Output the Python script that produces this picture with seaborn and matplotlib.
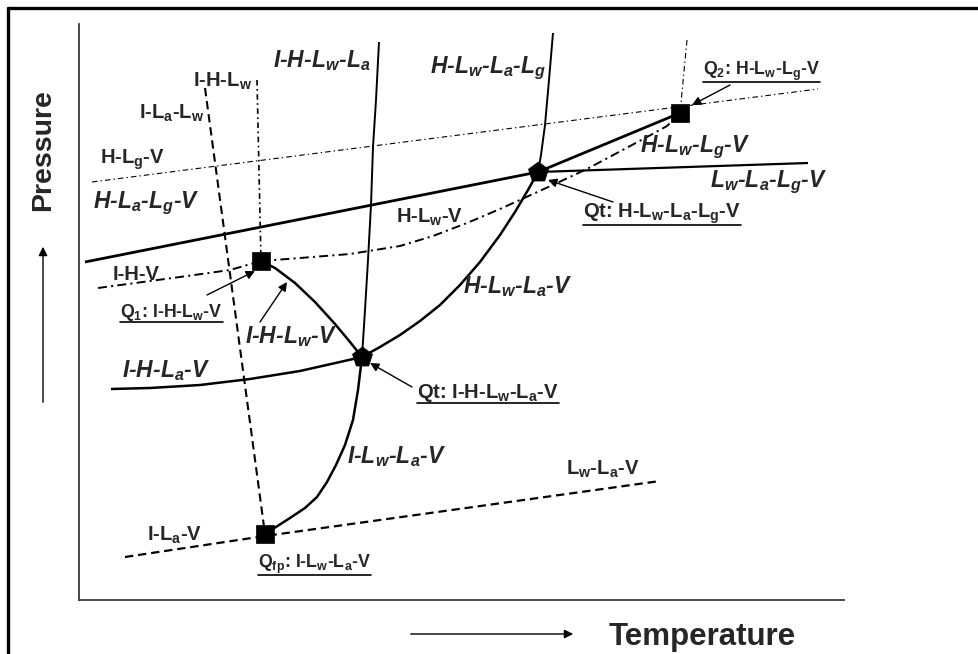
import matplotlib
matplotlib.use("Agg")
import matplotlib.pyplot as plt
from matplotlib.lines import Line2D
import seaborn as sns

# ---------------- data (schematic temperature / pressure units) ----------------
IHLwLa_T = [300, 297, 294, 292, 289, 286, 283]
IHLwLa_P = [558, 500, 453, 395, 340, 290, 243]

ILwLaV_T = [283, 279, 274, 266, 257, 248, 238, 226, 211, 186]
ILwLaV_P = [243, 210, 180, 155, 135, 118, 103, 92, 82, 66]

HLwLaV_T = [283, 301, 321, 341, 361, 381, 401, 421, 436, 449, 459]
HLwLaV_P = [243, 253, 265, 279, 295, 315, 338, 365, 388, 410, 428]

HLwLaLg_T = [474, 470, 466, 462, 459]
HLwLaLg_P = [567, 520, 475, 445, 428]

HLaLgV_T = [6, 459]
HLaLgV_P = [338, 428]

LwLaLgV_T = [459, 729]
LwLaLgV_P = [428, 437]

HLwLgV_T = [459, 601]
HLwLgV_P = [428, 487]

IHLwV_T = [182, 196, 216, 236, 256, 271, 283]
IHLwV_P = [339, 332, 317, 298, 276, 258, 243]

IHLaV_T = [32, 71, 121, 171, 221, 283]
IHLaV_P = [211, 212, 215, 221, 229, 243]

ILaV_T = [46, 186, 581]
ILaV_P = [43, 64, 119]

ILaLw_T = [126, 186]
ILaLw_P = [512, 66]

IHLw_T = [178, 182]
IHLw_P = [520, 339]

HLgV_T = [13, 739]
HLgV_P = [418, 511]

Q2vert_T = [608, 601]
Q2vert_P = [560, 487]

IHV_T = [19, 101, 151, 182]
IHV_P = [312, 323, 330, 339]

HLwV_T = [182, 221, 271, 321, 354, 388, 421, 454, 478, 508, 538, 568, 588, 601]
HLwV_P = [339, 342, 346, 354, 364, 377, 391, 406, 417, 431, 447, 463, 474, 487]

quad_T = [182, 186, 601]          # Q1, Qfp, Q2
quad_P = [339, 66, 487]
quint_T = [283, 459]              # Qt (lower), Qt (upper)
quint_P = [243, 428]

# ---------------- style ----------------
sns.set_style("white")
plt.rcParams["font.family"] = ["Liberation Sans", "DejaVu Sans"]
plt.rcParams["mathtext.fontset"] = "custom"
plt.rcParams["mathtext.rm"] = "Liberation Sans:bold"
plt.rcParams["mathtext.it"] = "Liberation Sans:italic:bold"
plt.rcParams["mathtext.bf"] = "Liberation Sans:bold"
plt.rcParams["lines.scale_dashes"] = False

W, H = 979, 654
fig = plt.figure(figsize=(W / 100, H / 100), dpi=100)
ax = fig.add_axes([79 / W, (H - 600) / H, (844 - 79) / W, (600 - 24) / H])
ax.set_xlim(0, 765)
ax.set_ylim(0, 576)
ax.set_xticks([])
ax.set_yticks([])
for s in ["top", "right"]:
    ax.spines[s].set_visible(False)
for s in ["left", "bottom"]:
    ax.spines[s].set_color("#3a3a3a")
    ax.spines[s].set_linewidth(1.3)


def curve(T, P, lw, dashes=None):
    sns.lineplot(x=T, y=P, ax=ax, sort=False, estimator=None, color="black",
                 linewidth=lw)
    ln = ax.lines[-1]
    ln.set_clip_on(False)
    ln.set_solid_capstyle("butt")
    if dashes is not None:
        ln.set_dashes(dashes)


# solid boundaries
curve(IHLwLa_T, IHLwLa_P, 1.4)
curve(ILwLaV_T, ILwLaV_P, 1.8)
curve(HLwLaV_T, HLwLaV_P, 1.8)
curve(HLwLaLg_T, HLwLaLg_P, 1.4)
curve(HLaLgV_T, HLaLgV_P, 2.0)
curve(LwLaLgV_T, LwLaLgV_P, 1.6)
curve(HLwLgV_T, HLwLgV_P, 2.0)
curve(IHLwV_T, IHLwV_P, 1.8)
curve(IHLaV_T, IHLaV_P, 1.8)

# dashed / dash-dot boundaries
curve(ILaV_T, ILaV_P, 1.6, (6, 3.5))
curve(ILaLw_T, ILaLw_P, 1.5, (6, 3.5))
curve(IHLw_T, IHLw_P, 1.2, (4, 2.5, 1.2, 2.5))
curve(HLgV_T, HLgV_P, 0.8, (4, 2.2, 1, 2.2))
curve(Q2vert_T, Q2vert_P, 0.8, (4, 2.2, 1, 2.2))
curve(IHV_T, IHV_P, 1.4, (6.5, 3, 1.5, 3))
curve(HLwV_T, HLwV_P, 1.4, (6.5, 3, 1.5, 3))

# special points
sns.scatterplot(x=quad_T, y=quad_P, ax=ax, marker="s", s=150, color="black",
                edgecolor="black", linewidth=0.5, zorder=5, clip_on=False)
sns.scatterplot(x=quint_T, y=quint_P, ax=ax, marker="p", s=230, color="black",
                edgecolor="black", linewidth=0.5, zorder=5, clip_on=False)

# ---------------- labels ----------------
italic_labels = [
    ("I-H-L$_w$-L$_a$", 194, 533),
    ("H-L$_w$-L$_a$-L$_g$", 351, 527),
    ("H-L$_a$-L$_g$-V", 14, 392),
    ("H-L$_w$-L$_g$-V", 561, 448),
    ("L$_w$-L$_a$-L$_g$-V", 631, 413),
    ("H-L$_w$-L$_a$-V", 384, 307),
    ("I-H-L$_w$-V", 166, 257),
    ("I-H-L$_a$-V", 43, 223),
    ("I-L$_w$-L$_a$-V", 268, 137),
]
for txt, x, y in italic_labels:
    ax.text(x, y, txt, fontsize=16.5, fontweight="bold", fontstyle="italic",
            ha="left", va="baseline")

plain_labels = [
    (r"I-H-L$_\mathrm{w}$", 114, 513),
    (r"I-L$_\mathrm{a}$-L$_\mathrm{w}$", 60, 481),
    (r"H-L$_\mathrm{g}$-V", 21, 436),
    (r"H-L$_\mathrm{w}$-V", 317, 377),
    (r"I-H-V", 34, 320),
    (r"I-L$_\mathrm{a}$-V", 68, 59),
    (r"L$_\mathrm{w}$-L$_\mathrm{a}$-V", 487, 125),
]
for txt, x, y in plain_labels:
    ax.text(x, y, txt, fontsize=14.5, fontweight="bold", ha="left", va="baseline")

point_labels = [
    (r"Q$_\mathrm{2}$: H-L$_\mathrm{w}$-L$_\mathrm{g}$-V", 624, 525, 12.8),
    (r"Qt: H-L$_\mathrm{w}$-L$_\mathrm{a}$-L$_\mathrm{g}$-V", 504, 382, 14.5),
    (r"Q$_\mathrm{1}$: I-H-L$_\mathrm{w}$-V", 41, 283, 12.8),
    (r"Qt: I-H-L$_\mathrm{w}$-L$_\mathrm{a}$-V", 338, 202, 14.5),
    (r"Q$_\mathrm{fp}$: I-L$_\mathrm{w}$-L$_\mathrm{a}$-V", 179, 32, 12.8),
]
pt_texts = []
for txt, x, y, fs in point_labels:
    pt_texts.append(ax.text(x, y, txt, fontsize=fs, fontweight="bold",
                            ha="left", va="baseline"))

pointer_arrows = [
    ((651, 515), (613, 495)),
    ((534, 398), (469, 420)),
    ((128, 305), (176, 329)),
    ((181, 278), (208, 318)),
    ((333, 213), (291, 237)),
]
for tail, head in pointer_arrows:
    ax.annotate("", xy=head, xytext=tail,
                arrowprops=dict(arrowstyle="-|>", color="black", lw=1.0,
                                mutation_scale=13, shrinkA=0, shrinkB=0))

# axis titles with arrows (figure coordinates)
fig.text(43 / W, 1 - 150 / H, "Pressure", rotation=90, fontsize=20.5,
         fontweight="bold", ha="center", va="center")
fig.text(609 / W, 1 - 645 / H, "Temperature", fontsize=22.5,
         fontweight="bold", ha="left", va="baseline")
fig.add_artist(matplotlib.patches.FancyArrowPatch(
    (43 / W, 1 - 405 / H), (43 / W, 1 - 244 / H), transform=fig.transFigure,
    arrowstyle="-|>", mutation_scale=13, lw=1.0, color="black"))
fig.add_artist(matplotlib.patches.FancyArrowPatch(
    (408 / W, 1 - 634 / H), (576 / W, 1 - 634 / H), transform=fig.transFigure,
    arrowstyle="-|>", mutation_scale=13, lw=1.0, color="black"))

# outer frame (top and left edges)
fig.add_artist(Line2D([8 / W, 1], [1 - 8 / H, 1 - 8 / H], transform=fig.transFigure,
                      color="black", lw=2.4))
fig.add_artist(Line2D([8 / W, 8 / W], [0, 1 - 8 / H], transform=fig.transFigure,
                      color="black", lw=2.4))

# underline the special-point labels
fig.canvas.draw()
renderer = fig.canvas.get_renderer()
inv = fig.transFigure.inverted()
for t in pt_texts:
    bb = t.get_window_extent(renderer)
    (x0, y0), (x1, _) = inv.transform([(bb.x0, bb.y0 + 1.0), (bb.x1, bb.y0 + 1.0)])
    fig.add_artist(Line2D([x0, x1], [y0, y0], transform=fig.transFigure,
                          color="black", lw=1.2))

fig.savefig("out.png", dpi=100)
